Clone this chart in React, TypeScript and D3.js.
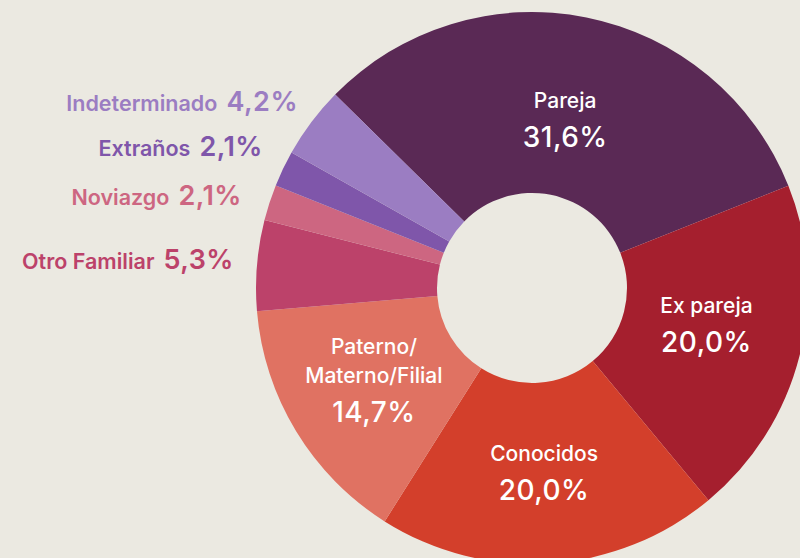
import React from "react";
import * as d3 from "d3";

const categories = ["Pareja", "Ex pareja", "Conocidos", "Paterno/Materno/Filial", "Otro Familiar", "Noviazgo", "Extraños", "Indeterminado"];
const values = [31.6, 20.0, 20.0, 14.7, 5.3, 2.1, 2.1, 4.2];
const valueLabels = ["31,6%", "20,0%", "20,0%", "14,7%", "5,3%", "2,1%", "2,1%", "4,2%"];
const colors = ["#5a2955", "#a51f2e", "#d33f2b", "#e07262", "#bc426a", "#cd6681", "#7f56aa", "#9b7dc2"];
const insideLines: string[][] = [["Pareja"], ["Ex pareja"], ["Conocidos"], ["Paterno/", "Materno/Filial"], [], [], [], []];
const labelRadius = [168, 180, 185, 185, 0, 0, 0, 0];
const labelDy = [4, 0, 8, 4, 0, 0, 0, 0];
const outsideIdx = [7, 6, 5, 4];
const outsideY = [111, 156, 205, 269];
const outsideX = [298, 263, 242, 234];

export default function App() {
  const W = 800, H = 558;
  const cx = 532, cy = 288;
  const rOuter = 276, rInner = 95;
  const pie = d3.pie<number>().value((d) => d).sort(null)
    .startAngle((-45.5 * Math.PI) / 180)
    .endAngle((314.5 * Math.PI) / 180);
  const arcs = pie(values);
  const arc = d3.arc<d3.PieArcDatum<number>>().innerRadius(rInner).outerRadius(rOuter);
  const font = "Inter, 'Noto Sans', sans-serif";
  return (
    <svg width={W} height={H} style={{ position: "absolute", left: 0, top: 0, background: "#ebe9e1" }}>
      <rect width={W} height={H} fill="#ebe9e1" />
      <g transform={`translate(${cx},${cy})`}>
        {arcs.map((a, i) => (
          <path key={i} d={arc(a) || ""} fill={colors[i]} />
        ))}
        {arcs.map((a, i) => {
          const lines = insideLines[i];
          if (!lines.length) return null;
          const r = labelRadius[i];
          const [x, y] = d3.arc<d3.PieArcDatum<number>>().innerRadius(r).outerRadius(r).centroid(a);
          const total = (lines.length - 1) * 29 + 39;
          const first = y - total / 2 + labelDy[i];
          return (
            <g key={"l" + i} fill="#ffffff" fontFamily={font} textAnchor="middle">
              {lines.map((t, j) => (
                <text key={j} x={x} y={first + j * 29} fontSize={21} fontWeight={500}>{t}</text>
              ))}
              <text x={x} y={first + total} fontSize={28} fontWeight={500} letterSpacing={0.5}>{valueLabels[i]}</text>
            </g>
          );
        })}
      </g>
      {outsideIdx.map((idx, k) => (
        <text key={"o" + k} x={outsideX[k]} y={outsideY[k]} textAnchor="end" fontFamily={font} fill={colors[idx]}>
          <tspan fontSize={21.5} fontWeight={600}>{categories[idx]}</tspan>
          <tspan fontSize={27} fontWeight={600} dx={9} letterSpacing={0.5}>{valueLabels[idx]}</tspan>
        </text>
      ))}
    </svg>
  );
}
